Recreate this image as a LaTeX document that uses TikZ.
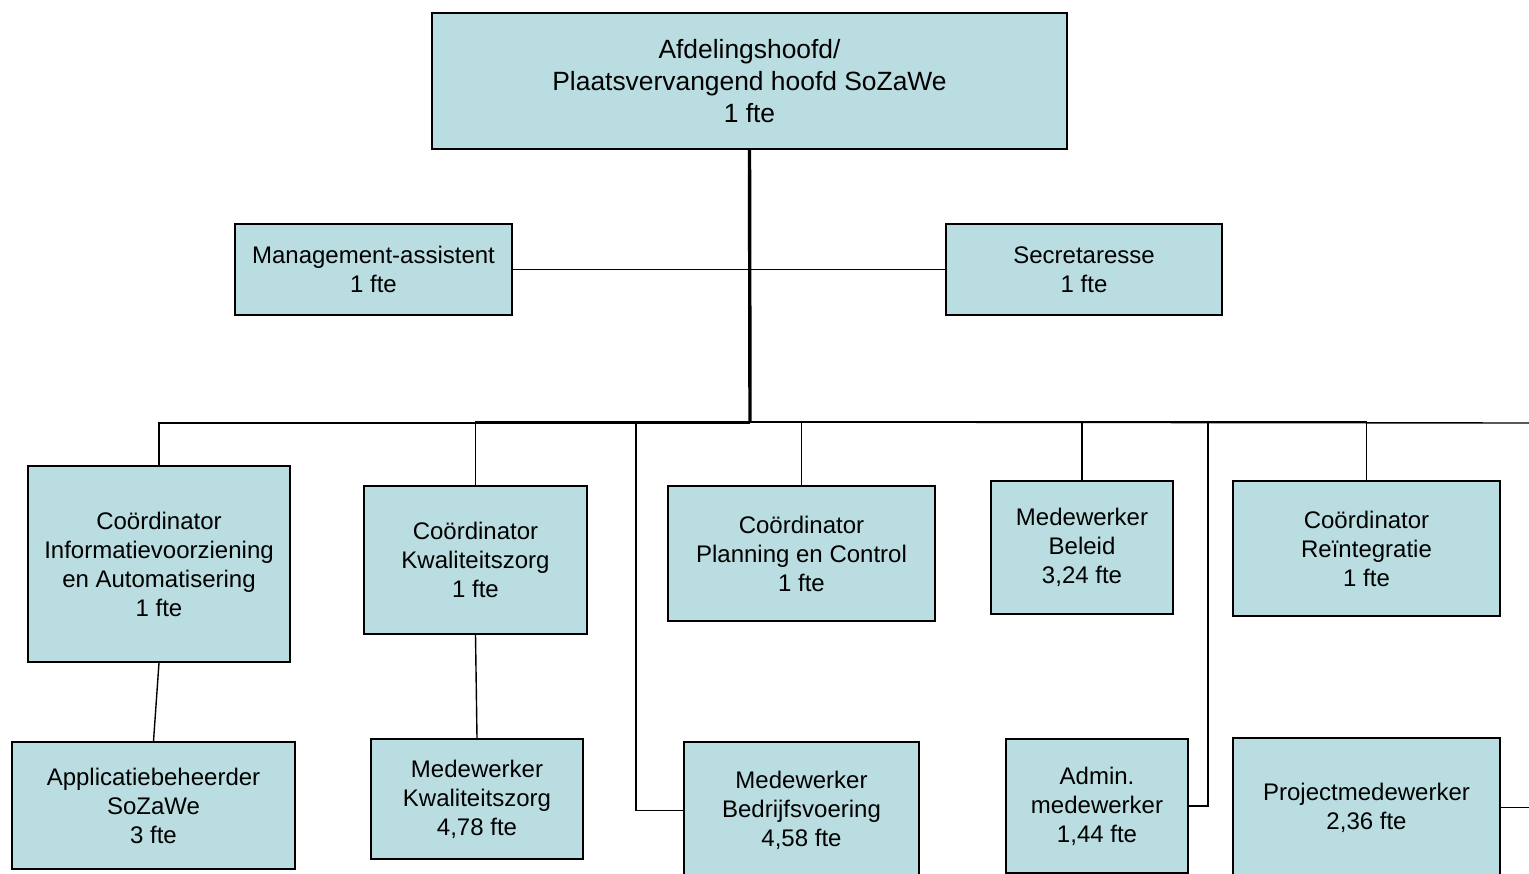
\documentclass[tikz,border=0pt]{standalone}
\usepackage{fontspec}
\setmainfont{Liberation Sans}
\usetikzlibrary{fit}
\definecolor{boxfill}{RGB}{185,221,224}
\begin{document}
\begin{tikzpicture}[x=0.5pt,y=-0.5pt,
  box/.style={draw=black, fill=boxfill, line width=0.8pt, inner sep=0pt},
  txt/.style={inner sep=0pt, align=center, font=\fontsize{12pt}{14.5pt}\selectfont},
  bigtxt/.style={inner sep=0pt, align=center, font=\fontsize{13.2pt}{16pt}\selectfont},
  conn/.style={draw=black, line width=0.7pt},
  busthick/.style={draw=black, line width=1.3pt},
  trunk/.style={draw=black, line width=1.7pt}]
\clip (0,0) rectangle (1529,873);
\fill[white] (0,0) rectangle (1529,873);

% top level
\node[box, fit={(432,13) (1067,149)}] (top) {};
\node[bigtxt] (top-t) at (top.center) {Afdelingshoofd/\\Plaatsvervangend hoofd SoZaWe\\1 fte};
% staff
\node[box, fit={(235,224) (512,315)}] (ma) {};
\node[txt] (ma-t) at (ma.center) {Management-assistent\\1 fte};
\node[box, fit={(946,224) (1222,315)}] (se) {};
\node[txt] (se-t) at (se.center) {Secretaresse\\1 fte};
% second row
\node[box, fit={(28,466) (290,662)}] (ia) {};
\node[txt] (ia-t) at (ia.center) {Coördinator\\Informatievoorziening\\en Automatisering\\1 fte};
\node[box, fit={(364,486) (587,634)}] (kw) {};
\node[txt] (kw-t) at (kw.center) {Coördinator\\Kwaliteitszorg\\1 fte};
\node[box, fit={(668,486) (935,621)}] (pc) {};
\node[txt] (pc-t) at (pc.center) {Coördinator\\Planning en Control\\1 fte};
\node[box, fit={(991,481) (1173,614)}] (mb) {};
\node[txt] (mb-t) at (mb.center) {Medewerker\\Beleid\\3,24 fte};
\node[box, fit={(1233,481) (1500,616)}] (ri) {};
\node[txt] (ri-t) at (ri.center) {Coördinator\\Reïntegratie\\1 fte};
% third row
\node[box, fit={(12,742) (295,869)}] (ap) {};
\node[txt] (ap-t) at (ap.center) {Applicatiebeheerder\\SoZaWe\\3 fte};
\node[box, fit={(371,739) (583,859)}] (mk) {};
\node[txt] (mk-t) at (mk.center) {Medewerker\\Kwaliteitszorg\\4,78 fte};
\node[box, fit={(684,742) (919,879)}] (bv) {};
\node[txt] (bv-t) at (bv.center) {Medewerker\\Bedrijfsvoering\\4,58 fte};
\node[box, fit={(1006,739) (1188,873)}] (ad) {};
\node[txt] (ad-t) at (ad.center) {Admin.\\medewerker\\1,44 fte};
\node[box, fit={(1233,738) (1500,877)}] (pm) {};
\node[txt] (pm-t) at (pm.center) {Projectmedewerker\\2,36 fte};

% bus coordinates
\coordinate (bus) at (750,422);
\coordinate (busL) at (750,423);
\coordinate (b1) at (636,422);
\coordinate (b2) at (1208,422);
\coordinate (r1) at (1529,423);
\coordinate (r2) at (1529,806);

% connectors
\draw[conn] (ma.east) -- (se.west);
\draw[conn] (busL) -| (ia.north);
\draw[conn] (bus) -| (kw.north);
\draw[conn] (bus) -| (pc.north);
\draw[conn] (bus) -| (mb.north);
\draw[conn] (bus) -| (ri.north);
\draw[conn] (b1) |- (bv.west);
\draw[conn] (b2) |- (ad.east);
\draw[conn] (bus) -- (r1);
\draw[conn] (pm.east) -- (pm.east -| r2);
\draw[busthick] (kw.north |- bus) -- (b2);
\draw[trunk] (top.south) -- (bus);
\draw[conn] (ia.south) -- (ap.north);
\draw[conn] (kw.south) -- (mk.north);
\end{tikzpicture}
\end{document}
